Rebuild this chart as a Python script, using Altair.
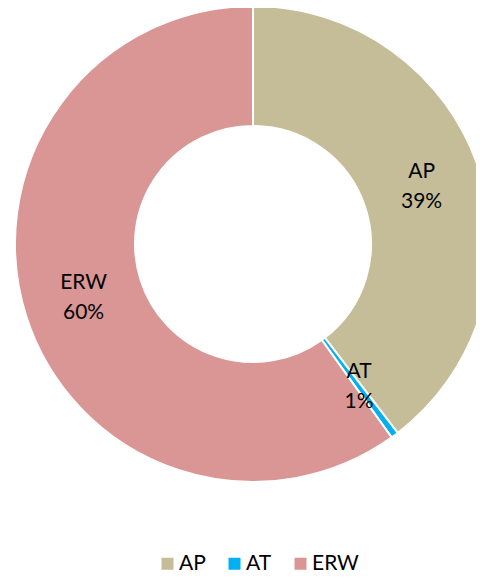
import altair as alt
import pandas as pd

categories = ["AP", "AT", "ERW"]
values = [39.6, 0.5, 59.9]
pct_labels = ["39%", "1%", "60%"]
colors = ["#C4BD97", "#00B0F0", "#D99694"]

df = pd.DataFrame({
    "cat": categories,
    "val": values,
    "order": list(range(len(categories))),
    "label": [f"{c}\n{p}" for c, p in zip(categories, pct_labels)],
})

FONT = "Lato"

base = alt.Chart(df).encode(
    theta=alt.Theta("val:Q", stack=True),
    order=alt.Order("order:Q"),
)

arcs = base.mark_arc(
    outerRadius=238, innerRadius=118, stroke="white", strokeWidth=2
).encode(
    x=alt.value(245),
    y=alt.value(236),
    color=alt.Color(
        "cat:N",
        scale=alt.Scale(domain=categories, range=colors),
        legend=alt.Legend(
            title=None,
            orient="none",
            direction="horizontal",
            legendX=149,
            legendY=545,
            symbolType="square",
            symbolSize=144,
            symbolStrokeWidth=0,
            labelFont=FONT,
            labelFontSize=21,
            labelColor="#000000",
            columnPadding=18,
            labelOffset=1,
        ),
    ),
)

texts = base.mark_text(
    radius=178, font=FONT, fontSize=21, lineBreak="\n", lineHeight=30,
    dy=-15, color="#000000"
).encode(
    x=alt.value(245),
    y=alt.value(236),
    text="label:N",
)

chart = (arcs + texts).properties(
    width=468, height=566, padding=0, autosize=alt.AutoSizeParams(type="none")
).configure_view(stroke=None)

chart.save("out.html", embed_options={"renderer": "svg", "actions": False})
